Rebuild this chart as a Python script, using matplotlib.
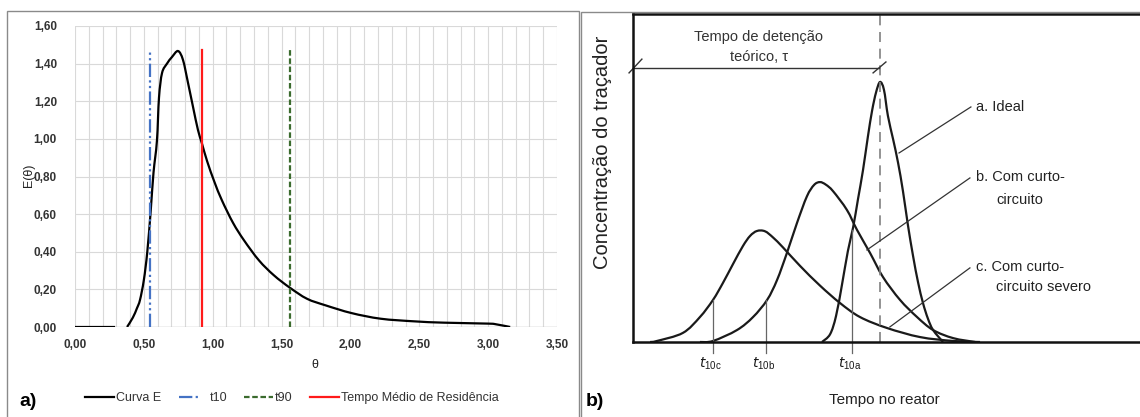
import numpy as np
import matplotlib.pyplot as plt
from matplotlib.lines import Line2D
from matplotlib.patches import Rectangle, PathPatch
from matplotlib.path import Path

plt.rcParams['font.family'] = ['Liberation Sans', 'DejaVu Sans']

W, H = 1140, 417

# --- painel a): curva E(theta) ---
theta_zero = [0.00, 0.10, 0.20, 0.28]
E_zero = [0.0, 0.0, 0.0, 0.0]
theta = [0.378, 0.42, 0.45, 0.472, 0.50, 0.525, 0.55, 0.57, 0.595, 0.61,
         0.632, 0.668, 0.704, 0.748, 0.784, 0.82, 0.857, 0.893, 0.922, 0.96,
         1.013, 1.067, 1.148, 1.228, 1.336, 1.444, 1.56, 1.685, 1.82, 2.008,
         2.22, 2.465, 2.68, 3.00, 3.06, 3.16]
E = [0.0, 0.05, 0.10, 0.144, 0.25, 0.40, 0.62, 0.82, 0.99, 1.22,
     1.35, 1.40, 1.435, 1.467, 1.42, 1.30, 1.17, 1.047, 0.975, 0.88,
     0.77, 0.673, 0.553, 0.46, 0.354, 0.275, 0.209, 0.15, 0.115, 0.074,
     0.044, 0.030, 0.023, 0.018, 0.014, 0.0]
t10 = 0.548
t90 = 1.56
t_medio = 0.92
altura_linhas = 1.47

# --- painel b): curvas esquematicas (tempo relativo a tau, concentracao relativa) ---
ideal_t = [0.765, 0.798, 0.822, 0.846, 0.870, 0.891, 0.911, 0.931, 0.951,
           0.968, 0.984, 1.0, 1.016, 1.032, 1.053, 1.073, 1.093, 1.113,
           1.134, 1.154, 1.174, 1.194, 1.215, 1.255]
ideal_c = [0.0, 0.03, 0.10, 0.22, 0.35, 0.44, 0.55, 0.66, 0.79,
           0.89, 0.96, 1.0, 0.97, 0.87, 0.78, 0.69, 0.58, 0.45,
           0.33, 0.23, 0.15, 0.09, 0.046, 0.0]
curto_t = [0.271, 0.324, 0.421, 0.486, 0.543, 0.583, 0.623, 0.664, 0.704,
           0.733, 0.757, 0.781, 0.810, 0.866, 0.907, 0.960, 1.012, 1.081,
           1.150, 1.215, 1.296, 1.385]
curto_c = [0.0, 0.004, 0.046, 0.096, 0.162, 0.238, 0.342, 0.458, 0.560,
           0.604, 0.615, 0.605, 0.580, 0.508, 0.431, 0.342, 0.25, 0.162,
           0.096, 0.046, 0.015, 0.0]
severo_t = [0.069, 0.097, 0.202, 0.271, 0.324, 0.364, 0.405, 0.445, 0.474,
            0.502, 0.534, 0.567, 0.607, 0.676, 0.757, 0.838, 0.919, 1.028,
            1.162, 1.296, 1.405]
severo_c = [0.0, 0.004, 0.035, 0.096, 0.162, 0.227, 0.300, 0.369, 0.408,
            0.427, 0.426, 0.402, 0.364, 0.293, 0.217, 0.15, 0.096, 0.054,
            0.019, 0.004, 0.0]
t10_marcas = [0.324, 0.538, 0.887]
t10_nomes = ['10c', '10b', '10a']
t10_alturas = [0.162, 0.162, 0.43]


def fx(px):
    return px / W


def fy(py):
    return 1 - py / H


def linha_suave(ax, xs, ys, **kw):
    # traço suavizado (Catmull-Rom convertido em Bezier cubica)
    p = np.column_stack([xs, ys])
    ext = np.vstack([p[0], p, p[-1]])
    verts = [p[0]]
    codes = [Path.MOVETO]
    for i in range(1, len(ext) - 2):
        p0, p1, p2, p3 = ext[i - 1], ext[i], ext[i + 1], ext[i + 2]
        verts += [p1 + (p2 - p0) / 6, p2 - (p3 - p1) / 6, p2]
        codes += [Path.CURVE4] * 3
    ax.add_patch(PathPatch(Path(verts, codes), fill=False, **kw))


fig = plt.figure(figsize=(W / 100, H / 100), dpi=100)

# molduras dos dois paineis
fig.add_artist(Rectangle((fx(7), fy(440)), fx(572), fy(11) - fy(440),
                         transform=fig.transFigure, fill=False, lw=1, ec='#8a8a8a'))
fig.add_artist(Rectangle((fx(581), fy(440)), fx(600), fy(12) - fy(440),
                         transform=fig.transFigure, fill=False, lw=1, ec='#8a8a8a'))

# ---------------- painel a) ----------------
ax = fig.add_axes([fx(75), fy(327), fx(557 - 75), (327 - 26) / H])
ax.set_xlim(0, 3.5)
ax.set_ylim(0, 1.6)
ax.set_xticks(np.arange(0, 3.51, 0.5))
ax.set_xticks(np.arange(0, 3.51, 0.1), minor=True)
ax.set_yticks(np.arange(0, 1.61, 0.2))
ax.grid(True, which='both', axis='x', color='#d9d9d9', lw=0.8)
ax.grid(True, which='major', axis='y', color='#d9d9d9', lw=0.8)
ax.set_axisbelow(True)
for s in ax.spines.values():
    s.set_visible(False)
ax.axhline(0, color='#bfbfbf', lw=1, zorder=1)
ax.tick_params(which='both', length=0)
ax.tick_params(axis='y', pad=13)
ax.tick_params(axis='x', pad=9)
fmt = lambda v: f'{v:.2f}'.replace('.', ',')
ax.set_xticklabels([fmt(v) for v in ax.get_xticks()])
ax.set_yticklabels([fmt(v) for v in ax.get_yticks()])
for lab in ax.get_xticklabels() + ax.get_yticklabels():
    lab.set_fontsize(8.5)
    lab.set_fontweight('bold')
    lab.set_color('#333333')

ax.plot(theta_zero, E_zero, color='black', lw=1.6, zorder=3)
linha_suave(ax, theta, E, color='black', lw=1.6, zorder=3)
ax.plot([t10, t10], [0, altura_linhas], color='#4472c4', lw=1.6,
        ls=(0, (6, 1.5, 1, 1.5, 1, 1.5)), zorder=4)
ax.plot([t90, t90], [0, altura_linhas], color='#3b6b2e', lw=1.6,
        ls=(0, (2.5, 1.2)), zorder=4)
ax.plot([t_medio, t_medio], [0, altura_linhas], color='#ff1a1a', lw=1.6, zorder=4)

fig.text(fx(29), fy(175), 'E(θ)', rotation=90, ha='center', va='center',
         fontsize=9, color='#222222')
fig.text(fx(315), fy(365), 'θ', ha='center', va='center', fontsize=9,
         color='#222222')
fig.text(fx(28), fy(401), 'a)', ha='center', va='center', fontsize=14,
         fontweight='bold')

handles = [
    Line2D([], [], color='black', lw=1.6),
    Line2D([], [], color='#4472c4', lw=1.6, ls=(0, (6, 1.5, 1, 6))),
    Line2D([], [], color='#3b6b2e', lw=1.6, ls=(0, (2.5, 1.2))),
    Line2D([], [], color='#ff1a1a', lw=1.6),
]
leg = fig.legend(handles, ['Curva E', 't10', 't90', 'Tempo Médio de Residência'],
                 loc='center', bbox_to_anchor=(fx(292), fy(398)), ncol=4,
                 frameon=False, fontsize=9, handlelength=2.3, handletextpad=0.15,
                 columnspacing=1.4)
for txt in leg.get_texts():
    txt.set_color('#333333')

# ---------------- painel b) ----------------
bx = fig.add_axes([fx(633), fy(342), fx(W - 633), (342 - 14) / H])
bx.set_xlim(0, (W - 633) / 247)
bx.set_ylim(0, 328 / 260)
bx.set_xticks([])
bx.set_yticks([])
bx.spines['right'].set_visible(False)
for k in ['left', 'top', 'bottom']:
    bx.spines[k].set_linewidth(1.8)
    bx.spines[k].set_color('#111111')

tinta = '#1a1a1a'
linha_suave(bx, ideal_t, ideal_c, color=tinta, lw=1.6)
linha_suave(bx, curto_t, curto_c, color=tinta, lw=1.6)
linha_suave(bx, severo_t, severo_c, color=tinta, lw=1.6)
bx.plot([1.0, 1.0], [0, 328 / 260], color='#808080', lw=1.2, ls=(0, (6, 4)))

for t, c, nome in zip(t10_marcas, t10_alturas, t10_nomes):
    bx.plot([t, t], [-0.042, c], color='#666666', lw=0.9, clip_on=False)
    bx.text(t - 0.01, -0.085, r'$t_{\mathregular{' + nome + '}}$', ha='center',
            va='center', fontsize=10, color=tinta, clip_on=False)

# tempo de detencao teorico
bx.plot([0, 0.995], [1.055, 1.055], color='#333333', lw=1.0, clip_on=False)
bx.plot([-0.016, 0.036], [1.035, 1.088], color='#333333', lw=1.0, clip_on=False)
bx.plot([0.972, 1.024], [1.035, 1.077], color='#333333', lw=1.0, clip_on=False)
bx.text(0.51, 1.173, 'Tempo de detenção', ha='center', va='center', fontsize=10.5,
        color='#333333')
bx.text(0.51, 1.098, 'teórico, τ', ha='center', va='center', fontsize=10.5,
        color='#333333')

# rotulos com linhas de chamada
bx.plot([1.077, 1.368], [0.727, 0.904], color='#333333', lw=0.9)
bx.plot([0.947, 1.364], [0.354, 0.631], color='#333333', lw=0.9)
bx.plot([1.040, 1.364], [0.058, 0.285], color='#333333', lw=0.9)
rot = dict(ha='left', va='center', fontsize=10.5, color='#222222')
bx.text(1.389, 0.904, 'a. Ideal', **rot)
bx.text(1.389, 0.635, 'b. Com curto-', **rot)
bx.text(1.470, 0.548, 'circuito', **rot)
bx.text(1.389, 0.288, 'c. Com curto-', **rot)
bx.text(1.470, 0.210, 'circuito severo', **rot)

fig.text(fx(603), fy(152), 'Concentração do traçador', rotation=90, ha='center',
         va='center', fontsize=14.5, color='#222222')
fig.text(fx(884), fy(400), 'Tempo no reator', ha='center', va='center',
         fontsize=11, color='#222222')
fig.text(fx(595), fy(402), 'b)', ha='center', va='center', fontsize=14,
         fontweight='bold')

fig.savefig('out.png', dpi=100)
